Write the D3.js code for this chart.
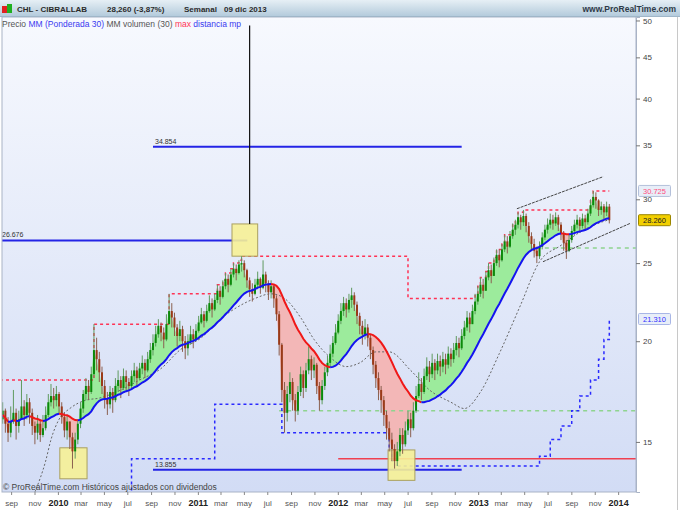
<!DOCTYPE html>
<html><head><meta charset="utf-8">
<script src="https://cdn.jsdelivr.net/npm/d3@7"></script>
<style>body{margin:0;background:#fff;}svg{display:block;font-family:"Liberation Sans",Arial,sans-serif;}</style>
</head><body><svg id="c" width="680" height="510"></svg>
<script>
// ---------------- DATA (weekly, first week 2009-08-03) ----------------
const firstWeek = "2009-08-03";
const closes = [
16.0,16.4,15.8,15.4,15.9,16.3,15.7,16.0,16.6,16.2,
16.8,16.3,15.7,15.4,15.8,15.3,15.6,16.2,16.8,17.1,
16.9,17.2,16.6,16.1,15.5,15.9,15.2,14.6,15.1,15.8,
16.5,17.2,17.6,17.3,18.2,19.5,19.0,18.3,17.6,17.0,
16.7,17.3,16.9,17.6,17.9,17.5,18.1,17.8,17.6,18.1,
18.4,18.0,18.5,18.8,18.4,19.0,19.5,19.9,20.4,20.9,
20.5,20.1,21.0,21.8,21.4,20.8,20.3,20.7,20.0,19.6,
20.0,20.4,20.1,20.6,21.1,21.6,21.2,21.8,22.3,21.9,
22.5,23.1,22.7,23.4,23.9,23.5,24.2,24.6,24.3,24.9,
25.0,24.5,23.8,23.2,22.9,23.5,23.9,23.3,24.2,23.6,
23.0,23.4,22.6,21.6,19.8,17.4,16.3,17.2,17.8,16.9,
16.4,17.3,18.2,17.5,18.4,19.0,18.4,18.7,17.6,16.9,
17.6,18.3,18.8,19.3,19.9,20.5,21.2,21.8,22.3,21.9,
22.5,22.8,22.2,21.5,20.9,20.4,20.8,20.2,19.5,18.7,
18.0,17.4,16.9,16.2,15.6,15.1,14.7,14.2,14.6,15.3,
14.9,15.5,16.0,15.6,16.4,17.1,17.7,17.3,18.1,18.6,
18.2,18.8,18.4,18.9,18.6,19.0,18.7,19.3,19.0,19.5,
19.9,19.6,20.3,20.8,21.4,21.0,21.8,22.4,22.9,23.5,
23.1,24.0,24.5,24.1,25.0,25.6,25.2,26.0,26.6,26.2,
27.0,27.5,27.9,28.5,28.1,28.6,27.8,27.0,26.4,25.9,
25.5,26.2,26.9,27.5,27.9,28.3,28.0,28.5,27.9,27.2,
26.5,25.9,26.7,27.4,27.9,28.3,27.8,28.4,28.1,28.8,
29.5,30.2,29.9,29.1,29.4,28.9,29.38,28.26];
const highs = [
16.5,16.8,16.5,16.1,16.6,17.4,16.5,16.4,17.9,16.9,
17.2,17.0,16.5,15.9,16.2,16.0,16.2,16.6,17.2,17.7,
17.5,17.6,17.3,16.8,16.3,16.2,15.9,15.4,15.4,16.0,
16.8,17.4,18.0,17.9,18.6,21.0,20.2,19.4,18.6,17.9,
17.3,17.6,17.5,18.0,18.4,18.1,18.5,18.4,18.0,18.4,
18.8,18.6,18.8,19.2,19.0,19.4,19.9,20.4,20.9,21.3,
21.1,20.8,21.6,22.9,22.3,21.7,21.0,21.2,20.9,20.3,
20.4,20.9,20.7,21.0,21.5,22.0,21.8,22.2,22.8,22.6,
22.9,23.5,23.4,23.8,24.3,24.2,24.6,25.0,24.9,25.2,
25.5,25.2,24.6,24.0,23.6,23.9,24.4,24.0,25.2,24.4,
23.8,23.8,23.5,22.8,21.8,19.9,17.8,17.6,18.3,18.0,
17.2,17.6,18.6,18.4,18.8,19.7,19.2,19.1,18.8,17.8,
17.9,18.6,19.2,19.8,20.3,21.0,21.6,22.3,22.7,22.6,
22.9,23.3,23.0,22.4,21.7,21.2,21.3,21.0,20.4,19.7,
18.9,18.3,17.6,17.1,16.4,15.9,15.4,14.9,15.0,15.6,
15.6,15.9,16.4,16.3,16.8,17.6,18.3,18.0,18.5,19.1,
18.9,19.3,19.0,19.3,19.2,19.4,19.3,19.7,19.6,19.9,
20.3,20.2,20.7,21.2,21.8,21.7,22.2,22.9,23.4,24.0,
23.9,24.4,25.0,24.9,25.4,26.0,26.0,26.4,27.1,27.0,
27.4,28.0,28.3,28.9,28.7,29.1,28.8,28.1,27.3,26.8,
26.2,26.6,27.3,27.9,28.4,28.8,28.7,28.9,28.7,28.1,
27.4,26.7,27.1,27.8,28.3,28.7,28.5,28.8,28.7,29.2,
30.0,30.725,30.6,30.0,29.8,29.6,29.8,29.6];
const lows = [
15.5,15.8,15.4,15.0,15.2,15.8,15.1,15.4,16.0,15.7,
16.0,15.8,15.3,14.9,15.1,15.0,15.2,15.5,16.1,16.6,
16.5,16.6,16.3,15.8,15.2,15.1,14.7,13.9,14.3,14.9,
15.6,16.3,16.9,16.9,17.2,18.0,18.4,17.8,17.2,16.5,
16.2,16.5,16.3,16.8,17.3,17.0,17.4,17.4,17.1,17.4,
17.8,17.6,17.9,18.2,18.0,18.3,18.8,19.2,19.7,20.2,
20.0,19.6,20.0,21.0,20.8,20.3,19.7,20.0,19.4,19.0,
19.2,19.8,19.6,20.0,20.5,21.0,20.8,21.1,21.7,21.4,
21.8,22.3,22.2,22.6,23.2,23.0,23.4,24.0,23.8,24.2,
24.4,24.0,23.3,22.7,22.4,22.8,23.2,22.9,23.2,23.0,
22.5,22.6,22.0,21.2,19.2,16.8,15.4,15.9,16.8,16.4,
15.9,16.2,17.1,17.0,17.3,18.2,17.9,18.0,17.2,16.4,
16.7,17.4,18.1,18.6,19.1,19.8,20.4,21.0,21.5,21.4,
21.7,22.0,21.8,21.0,20.4,19.8,20.1,19.7,19.0,18.2,
17.5,16.9,16.3,15.7,15.1,14.6,14.2,13.9,14.0,14.4,
14.5,14.8,15.3,15.2,15.5,16.3,17.0,16.9,17.2,17.9,
17.8,18.0,17.9,18.2,18.1,18.3,18.2,18.5,18.6,18.8,
19.2,19.1,19.5,20.1,20.6,20.5,21.0,21.6,22.2,22.7,
22.6,23.1,23.8,23.6,24.1,24.8,24.7,25.1,25.8,25.7,
26.1,26.8,27.1,27.6,27.5,27.8,27.3,26.5,25.9,25.4,
25.0,25.3,26.0,26.7,27.2,27.6,27.5,27.8,27.4,26.7,
25.9,25.3,25.8,26.5,27.1,27.6,27.3,27.6,27.5,27.9,
28.6,29.3,29.2,28.6,28.7,28.3,28.6,28.0];

// "MM volumen (30)" (week index, value)
const volMaWeek = [13,17,19,22,26,32,37,45,52,60,67,75,82,89,95,101,106,112,117,123,129,134,140,145,153,160,168,173,179,186,194,201,209,216,224,227];
const volMaVal  = [13.0,14.2,15.1,16.0,16.5,16.9,17.0,17.4,17.9,18.5,19.5,20.2,21.3,22.1,22.6,22.9,22.6,21.4,20.1,19.1,18.6,18.8,19.4,19.4,18.4,17.4,16.8,16.5,17.3,19.3,22.2,25.1,26.3,27.3,28.1,28.3];
// "max" step line (week index, value)
const maxWeek = [0,35,63,81,83,84,86,87,89,90,152,177,178,179,181,182,184,185,187,188,191,192,193,195,220,221,227];
const maxVal  = [17.9,21.0,22.9,23.5,23.8,24.3,24.6,25.0,25.2,25.5,22.6,22.9,23.4,24.0,24.4,25.0,25.4,26.0,26.4,27.1,28.0,28.3,28.9,29.1,30.0,30.725,30.725];
// "distancia mp" step line (week index, value)
const minWeek = [48,49,80,105,145,146,147,199,201,205,209,213,216,220,223,225,227];
const minVal  = [12.5,14.3,16.7,15.4,14.6,14.2,14.0,14.0,14.4,15.1,15.7,16.4,17.1,17.9,19.0,20.1,21.31];

// horizontal annotations
const blueLevels   = [34.854, 26.676, 13.855];
const blueFrom     = ["2010-09-06","2009-08-03","2010-09-06"];
const blueTo       = ["2012-11-19","2011-05-10","2012-11-19"];
const greenLevels  = [16.4, 26.1];
const greenFrom    = ["2011-08-01","2013-06-03"];
const redLevel     = 14.3;
const redFrom      = "2012-01-02";
// highlight boxes: date from/to, value top/bottom
const boxFrom = ["2011-03-31","2010-01-06","2012-05-11"];
const boxTo   = ["2011-06-06","2010-03-18","2012-07-20"];
const boxTop  = [27.96,14.75,14.66];
const boxBot  = [25.5,13.5,13.44];
const vlineDate = "2011-05-16", vlineTop = 49.3, vlineBot = 27.96;
// channel lines
const chanFrom = ["2013-04-12","2013-06-19"], chanFromVal = [29.2,25.1];
const chanTo   = ["2013-11-23","2014-02-01"], chanToVal   = [32.0,28.0];

const yTicks = [15,20,25,30,35,40,45,50];
const xTickDates = ["2009-09-01","2009-11-01","2010-01-01","2010-03-01","2010-05-01","2010-07-01","2010-09-01","2010-11-01","2011-01-01","2011-03-01","2011-05-01","2011-07-01","2011-09-01","2011-11-01","2012-01-01","2012-03-01","2012-05-01","2012-07-01","2012-09-01","2012-11-01","2013-01-01","2013-03-01","2013-05-01","2013-07-01","2013-09-01","2013-11-01","2014-01-01"];
const xTickLabels = ["sep","nov","2010","mar","may","jul","sep","nov","2011","mar","may","jul","sep","nov","2012","mar","may","jul","sep","nov","2013","mar","may","jul","sep","nov","2014"];

// ---------------- DRAW ----------------
const parse = d3.timeParse("%Y-%m-%d");
const t0 = parse(firstWeek);
const weekDate = i => d3.timeDay.offset(t0, 7*i);
const PL=2, PR=636, PT=17, PB=492;
const x = d3.scaleTime().domain([t0, parse("2014-02-14")]).range([0, 635]);
const y = d3.scaleLog().domain([13.0, 50.5]).range([PB, PT]);

const data = closes.map((c,i)=>{
  const o = i>0 ? closes[i-1] : c;
  let s=0,w=0;
  for(let k=0;k<30 && i-k>=0;k++){const wt=30-k; s+=closes[i-k]*wt; w+=wt;}
  return {date:weekDate(i), o, c, h:Math.max(highs[i],o,c), l:Math.min(lows[i],o,c), ma:s/w};
});

const svg = d3.select("#c");
const defs = svg.append("defs");
const g1 = defs.append("linearGradient").attr("id","bg").attr("x1",0).attr("y1",0).attr("x2",0).attr("y2",1);
g1.append("stop").attr("offset","0").attr("stop-color","#f7f9fe");
g1.append("stop").attr("offset","1").attr("stop-color","#d2dcf5");
const g2 = defs.append("linearGradient").attr("id","tb").attr("x1",0).attr("y1",0).attr("x2",0).attr("y2",1);
g2.append("stop").attr("offset","0").attr("stop-color","#e6eff5");
g2.append("stop").attr("offset","1").attr("stop-color","#b4cbdc");
defs.append("clipPath").attr("id","plot").append("rect").attr("x",PL).attr("y",PT).attr("width",PR-PL).attr("height",PB-PT);

const xd = d=>x(d.date);
defs.append("clipPath").attr("id","below").append("path")
  .attr("d", d3.area().x(xd).y0(PB).y1(d=>y(d.c))(data));
defs.append("clipPath").attr("id","above").append("path")
  .attr("d", d3.area().x(xd).y0(PT).y1(d=>y(d.c))(data));

svg.append("rect").attr("width",680).attr("height",510).attr("fill","#fff");
svg.append("rect").attr("x",PL).attr("y",PT).attr("width",PR-PL).attr("height",PB-PT).attr("fill","url(#bg)");

const plot = svg.append("g").attr("clip-path","url(#plot)");

// fills between price and MA
plot.append("g").attr("clip-path","url(#below)").append("path")
  .attr("d", d3.area().x(xd).y0(PT).y1(d=>y(d.ma))(data)).attr("fill","#9ceb9c");
plot.append("g").attr("clip-path","url(#above)").append("path")
  .attr("d", d3.area().x(xd).y0(PB).y1(d=>y(d.ma))(data)).attr("fill","#f3b7b7");

// horizontal lines
blueLevels.forEach((v,i)=>{
  plot.append("line").attr("x1",x(parse(blueFrom[i]))).attr("x2",x(parse(blueTo[i])))
    .attr("y1",y(v)).attr("y2",y(v)).attr("stroke","#2424e6").attr("stroke-width",2);
  plot.append("text").attr("x",x(parse(blueFrom[i]))+2).attr("y",y(v)-3)
    .attr("font-size",7).attr("fill","#333").text(v.toFixed(3));
});
greenLevels.forEach((v,i)=>{
  plot.append("line").attr("x1",x(parse(greenFrom[i]))).attr("x2",PR)
    .attr("y1",y(v)).attr("y2",y(v)).attr("stroke","#8fd48f").attr("stroke-width",1.5).attr("stroke-dasharray","4,4");
});
plot.append("line").attr("x1",x(parse(redFrom))).attr("x2",PR).attr("y1",y(redLevel)).attr("y2",y(redLevel))
  .attr("stroke","#f04050").attr("stroke-width",1.5);

// step lines
const stepLine = d3.line().curve(d3.curveStepAfter).x(p=>x(weekDate(p[0]))).y(p=>y(p[1]));
plot.append("path").attr("d", stepLine(maxWeek.map((w,i)=>[w,maxVal[i]])))
  .attr("fill","none").attr("stroke","#ff3355").attr("stroke-width",1.5).attr("stroke-dasharray","3,3");
plot.append("path").attr("d", stepLine(minWeek.map((w,i)=>[w,minVal[i]])))
  .attr("fill","none").attr("stroke","#2a2aff").attr("stroke-width",1.5).attr("stroke-dasharray","3,3");

// volume MA
plot.append("path").attr("d", d3.line().curve(d3.curveMonotoneX).x(p=>x(weekDate(p[0]))).y(p=>y(p[1]))(volMaWeek.map((w,i)=>[w,volMaVal[i]])))
  .attr("fill","none").attr("stroke","#666").attr("stroke-width",1).attr("stroke-dasharray","2,2");

// boxes
boxFrom.forEach((d,i)=>{
  const x0=x(parse(d)), x1=x(parse(boxTo[i]));
  plot.append("rect").attr("x",x0).attr("y",y(boxTop[i])).attr("width",x1-x0).attr("height",y(boxBot[i])-y(boxTop[i]))
    .attr("fill","#f6f196").attr("fill-opacity",0.9).attr("stroke","#aaa060").attr("stroke-width",1);
});

// candles
const cg = plot.append("g");
cg.selectAll("line.w").data(data).join("line")
  .attr("x1",d=>x(d.date)).attr("x2",d=>x(d.date)).attr("y1",d=>y(d.h)).attr("y2",d=>y(d.l))
  .attr("stroke",d=>d.c>=d.o?"#5f9a5f":"#8a6050").attr("stroke-width",1);
cg.selectAll("rect").data(data).join("rect")
  .attr("x",d=>x(d.date)-1).attr("width",2)
  .attr("y",d=>y(Math.max(d.o,d.c)))
  .attr("height",d=>Math.max(1,y(Math.min(d.o,d.c))-y(Math.max(d.o,d.c))))
  .attr("fill",d=>d.c>=d.o?"#0b8a0b":"#9a3a18");

// MA coloured by direction
const segs=[]; let cur=null;
for(let i=1;i<data.length;i++){
  const col = data[i].ma>=data[i-1].ma ? "#1414f0" : "#f01818";
  if(!cur||cur.col!==col){cur={col,pts:[data[i-1]]};segs.push(cur);}
  cur.pts.push(data[i]);
}
const maLine = d3.line().x(xd).y(d=>y(d.ma));
segs.forEach(s=>plot.append("path").attr("d",maLine(s.pts)).attr("fill","none").attr("stroke",s.col).attr("stroke-width",2));

// vertical line & channel
plot.append("line").attr("x1",x(parse(vlineDate))).attr("x2",x(parse(vlineDate)))
  .attr("y1",y(vlineTop)).attr("y2",y(vlineBot)).attr("stroke","#111").attr("stroke-width",1.2);
chanFrom.forEach((d,i)=>{
  plot.append("line").attr("x1",x(parse(d))).attr("y1",y(chanFromVal[i]))
    .attr("x2",x(parse(chanTo[i]))).attr("y2",y(chanToVal[i]))
    .attr("stroke","#444").attr("stroke-width",1).attr("stroke-dasharray","3,1");
});

// plot frame
svg.append("rect").attr("x",PL).attr("y",PT).attr("width",PR-PL).attr("height",PB-PT)
  .attr("fill","none").attr("stroke","#a9b3c6").attr("stroke-width",1);
svg.append("line").attr("x1",677.5).attr("x2",677.5).attr("y1",PT).attr("y2",510).attr("stroke","#c8c8c8");

// title bar
svg.append("rect").attr("x",0).attr("y",0).attr("width",680).attr("height",16).attr("fill","url(#tb)");
svg.append("line").attr("x1",0).attr("x2",680).attr("y1",16.5).attr("y2",16.5).attr("stroke","#9fb6c8");
svg.append("rect").attr("x",2).attr("y",6).attr("width",5).attr("height",7).attr("fill","#e02020");
svg.append("rect").attr("x",7).attr("y",4).attr("width",5).attr("height",9).attr("fill","#20b020");
const tt = svg.append("text").attr("y",11.5).attr("font-size",8).attr("font-weight","bold").attr("fill","#2a2a2a");
tt.append("tspan").attr("x",17).text("CHL - CIBRALLAB");
tt.append("tspan").attr("x",107).text("28,260 (-3,87%)");
tt.append("tspan").attr("x",184).text("Semanal");
tt.append("tspan").attr("x",224).text("09 dic 2013");
svg.append("text").attr("x",676).attr("y",11.5).attr("text-anchor","end").attr("font-size",8.5)
  .attr("font-weight","bold").attr("fill","#2e3a48").text("www.ProRealTime.com");

// legend line
const lg = svg.append("text").attr("x",2).attr("y",27).attr("font-size",8.5);
lg.append("tspan").attr("fill","#555").text("Precio ");
lg.append("tspan").attr("fill","#3a3af0").text("MM (Ponderada 30) ");
lg.append("tspan").attr("fill","#555").text("MM volumen (30) ");
lg.append("tspan").attr("fill","#ff3355").text("max ");
lg.append("tspan").attr("fill","#3a3af0").text("distancia mp");

// copyright
svg.append("text").attr("x",3).attr("y",490).attr("font-size",8.5).attr("fill","#444")
  .text("© ProRealTime.com Históricos ajustados con dividendos");

// y axis
const ya = svg.append("g").attr("transform",`translate(${PR},0)`)
  .call(d3.axisRight(y).tickValues(yTicks).tickFormat(d3.format("d")).tickSize(4).tickPadding(3));
ya.select(".domain").attr("stroke","#a9b3c6");
ya.selectAll(".tick line").attr("stroke","#777");
ya.selectAll("text").attr("font-size",8).attr("fill","#444").attr("font-family","Liberation Sans, Arial, sans-serif");

// x axis
const xa = svg.append("g").attr("transform",`translate(0,${PB})`)
  .call(d3.axisBottom(x).tickValues(xTickDates.map(parse)).tickFormat((d,i)=>xTickLabels[i]).tickSize(3).tickPadding(5));
xa.select(".domain").remove();
xa.selectAll(".tick line").attr("stroke","#888");
xa.selectAll("text").attr("font-family","Liberation Sans, Arial, sans-serif")
  .attr("font-weight",(d,i)=>/^\d{4}$/.test(xTickLabels[i])?"bold":"normal")
  .attr("font-size",(d,i)=>/^\d{4}$/.test(xTickLabels[i])?9:8)
  .attr("fill",(d,i)=>/^\d{4}$/.test(xTickLabels[i])?"#222":"#555");

// right-axis value labels
const lastMax = maxVal[maxVal.length-1], lastMin = minVal[minVal.length-1], lastClose = closes[closes.length-1];
const tags = [[lastMax,"#e8eef8","#b4c0da","#ff4f7f"],[lastClose,"#f2cf00","#9a8500","#222"],[lastMin,"#e8eef8","#a8b6e6","#3030ff"]];
tags.forEach(([v,bg,bd,fg])=>{
  const yy = y(v);
  svg.append("rect").attr("x",638.5).attr("y",yy-5.5).attr("width",32).attr("height",11)
    .attr("fill",bg).attr("stroke",bd).attr("rx",1);
  svg.append("text").attr("x",654.5).attr("y",yy+3).attr("text-anchor","middle").attr("font-size",7.5)
    .attr("fill",fg).text(v.toFixed(3));
});
</script></body></html>
